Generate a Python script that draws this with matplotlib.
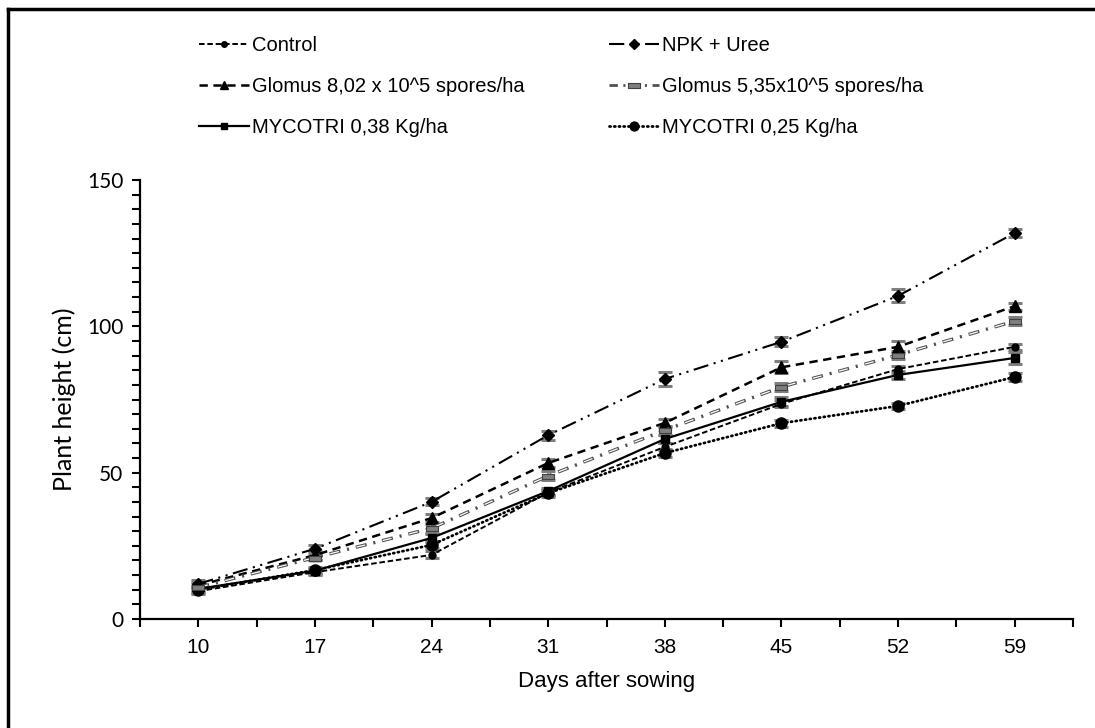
import numpy as np
import matplotlib
matplotlib.use("Agg")
import matplotlib.pyplot as plt
from matplotlib.lines import Line2D
from matplotlib.path import Path

plt.rcParams["lines.scale_dashes"] = False

days = ["10", "17", "24", "31", "38", "45", "52", "59"]

control = [9.5, 16.0, 21.9, 43.2, 58.8, 73.5, 85.4, 93.0]
npk = [12.0, 24.0, 40.0, 62.8, 82.0, 94.7, 110.4, 131.9]
glomus_802 = [11.5, 21.8, 34.5, 53.3, 67.0, 86.0, 93.0, 106.9]
glomus_535 = [10.8, 21.0, 31.0, 48.9, 64.5, 79.3, 90.2, 101.8]
myco_038 = [10.3, 16.5, 27.7, 43.7, 61.5, 74.2, 83.4, 89.2]
myco_025 = [10.0, 16.7, 25.3, 43.0, 56.7, 66.9, 72.8, 82.7]

err_control = [1.0, 1.0, 1.2, 1.0, 1.2, 1.2, 1.2, 1.0]
err_npk = [1.2, 1.2, 1.2, 1.5, 2.5, 1.5, 2.2, 1.5]
err_g802 = [1.0, 1.5, 1.5, 1.5, 1.5, 2.0, 2.0, 1.2]
err_g535 = [1.0, 1.0, 1.5, 1.5, 1.5, 1.5, 1.5, 1.5]
err_m038 = [1.0, 1.0, 1.5, 1.2, 1.5, 1.5, 1.5, 2.0]
err_m025 = [1.0, 1.0, 1.2, 1.2, 1.5, 1.2, 1.0, 1.5]

narrow = ["Liberation Sans Narrow", "Liberation Sans", "DejaVu Sans"]
calib = ["Lato", "DejaVu Sans"]

fig = plt.figure(figsize=(10.95, 7.28), dpi=100)
ax = fig.add_axes([140 / 1095, 109 / 728, 933 / 1095, 439 / 728])
x = np.arange(len(days))

grey = "#7f7f7f"
hollow_dash = Path([(-1, -0.4), (1, -0.4), (1, 0.4), (-1, 0.4), (-1, -0.4)],
                   [Path.MOVETO, Path.LINETO, Path.LINETO, Path.LINETO, Path.CLOSEPOLY])

# line styles per series
st_control = dict(color="black", lw=1.4, ls=(0, (4, 2)), marker="o", ms=5)
st_npk = dict(color="black", lw=1.5, ls=(0, (11, 4, 1.5, 4, 1.5, 4)), marker="D", ms=6)
st_g802 = dict(color="black", lw=1.8, ls=(0, (6, 4)), marker="^", ms=8)
st_m038 = dict(color="black", lw=1.6, ls="-", marker="s", ms=6)
st_m025 = dict(color="black", lw=2.0, ls=(0, (0.8, 2.6)), dash_capstyle="round",
               marker="o", ms=8)
st_g535 = dict(color="#505050", lw=2.4, ls=(0, (8, 5, 1.5, 5)))
st_g535_mk = dict(marker=hollow_dash, ms=9, mfc=grey, mec="#404040", mew=0.8)


def errs(y, e):
    ax.errorbar(x, y, yerr=e, fmt="none", ecolor=grey, elinewidth=1.2,
                capsize=5, capthick=2.2, zorder=2)


# error bars first, lines on top
for y, e in [(control, err_control), (npk, err_npk), (glomus_802, err_g802),
             (glomus_535, err_g535), (myco_038, err_m038), (myco_025, err_m025)]:
    errs(y, e)

ax.plot(x, control, zorder=3, **st_control)
ax.plot(x, npk, zorder=3, **st_npk)
ax.plot(x, glomus_802, zorder=3, **st_g802)
# grey long-dash-dot line with hollow dashes
ax.plot(x, glomus_535, zorder=3, **st_g535)
ax.plot(x, glomus_535, color="white", lw=0.9, ls=(19, (6.5, 13)), zorder=3.1)
ax.plot(x, glomus_535, ls="none", zorder=3.2, **st_g535_mk)
ax.plot(x, myco_038, zorder=3, **st_m038)
ax.plot(x, myco_025, zorder=3, **st_m025)

ax.set_xlim(-0.5, len(days) - 0.5)
ax.set_ylim(0, 150)
ax.set_xticks(x)
ax.set_xticklabels(days, family=narrow, fontsize=15)
ax.set_xticks(np.arange(-0.5, len(days), 1.0), minor=True)
ax.set_yticks([0, 50, 100, 150])
ax.set_yticklabels(["0", "50", "100", "150"], family=calib, fontsize=15)
ax.set_yticks(np.arange(0, 151, 5), minor=True)
ax.tick_params(axis="x", which="both", direction="out", length=6, width=1.5, pad=8)
ax.tick_params(axis="y", which="both", direction="out", length=6, width=1.5, pad=6)
ax.spines["right"].set_visible(False)
ax.spines["top"].set_visible(False)
ax.spines["left"].set_linewidth(1.6)
ax.spines["bottom"].set_linewidth(1.6)
ax.set_xlabel("Days after sowing", family=narrow, fontsize=16, labelpad=10)
ax.set_ylabel("Plant height (cm)", family=calib, fontsize=18, labelpad=8)


def handle(style, shrink=0.8):
    kw = dict(style)
    if "ms" in kw:
        kw["ms"] = kw["ms"] * shrink
    return Line2D([], [], **kw)


g535_handle = Line2D([], [], color="#505050", lw=2.0, ls=(0, (6, 4, 1.5, 4)),
                     **st_g535_mk)
col1 = [handle(st_control), handle(st_g802), handle(st_m038)]
col2 = [handle(st_npk), g535_handle, handle(st_m025)]
lab1 = ["Control", "Glomus 8,02 x 10^5 spores/ha", "MYCOTRI 0,38 Kg/ha"]
lab2 = ["NPK + Uree", "Glomus 5,35x10^5 spores/ha", "MYCOTRI 0,25 Kg/ha"]

leg_kw = dict(frameon=False, handlelength=2.5, handletextpad=0.15,
              labelspacing=1.1, borderpad=0, borderaxespad=0, numpoints=1,
              prop={"family": narrow, "size": 14.5})
fig.legend(col1, lab1, loc="upper left", bbox_to_anchor=(199 / 1095, 1 - 36 / 728), **leg_kw)
fig.legend(col2, lab2, loc="upper left", bbox_to_anchor=(609 / 1095, 1 - 36 / 728), **leg_kw)

# partial frame around the picture
fig.add_artist(Line2D([8 / 1095, 8 / 1095], [0, 1 - 9 / 728], color="black", lw=2.5))
fig.add_artist(Line2D([8 / 1095, 1], [1 - 9 / 728, 1 - 9 / 728], color="black", lw=2.5))

fig.savefig("out.png", dpi=100)
